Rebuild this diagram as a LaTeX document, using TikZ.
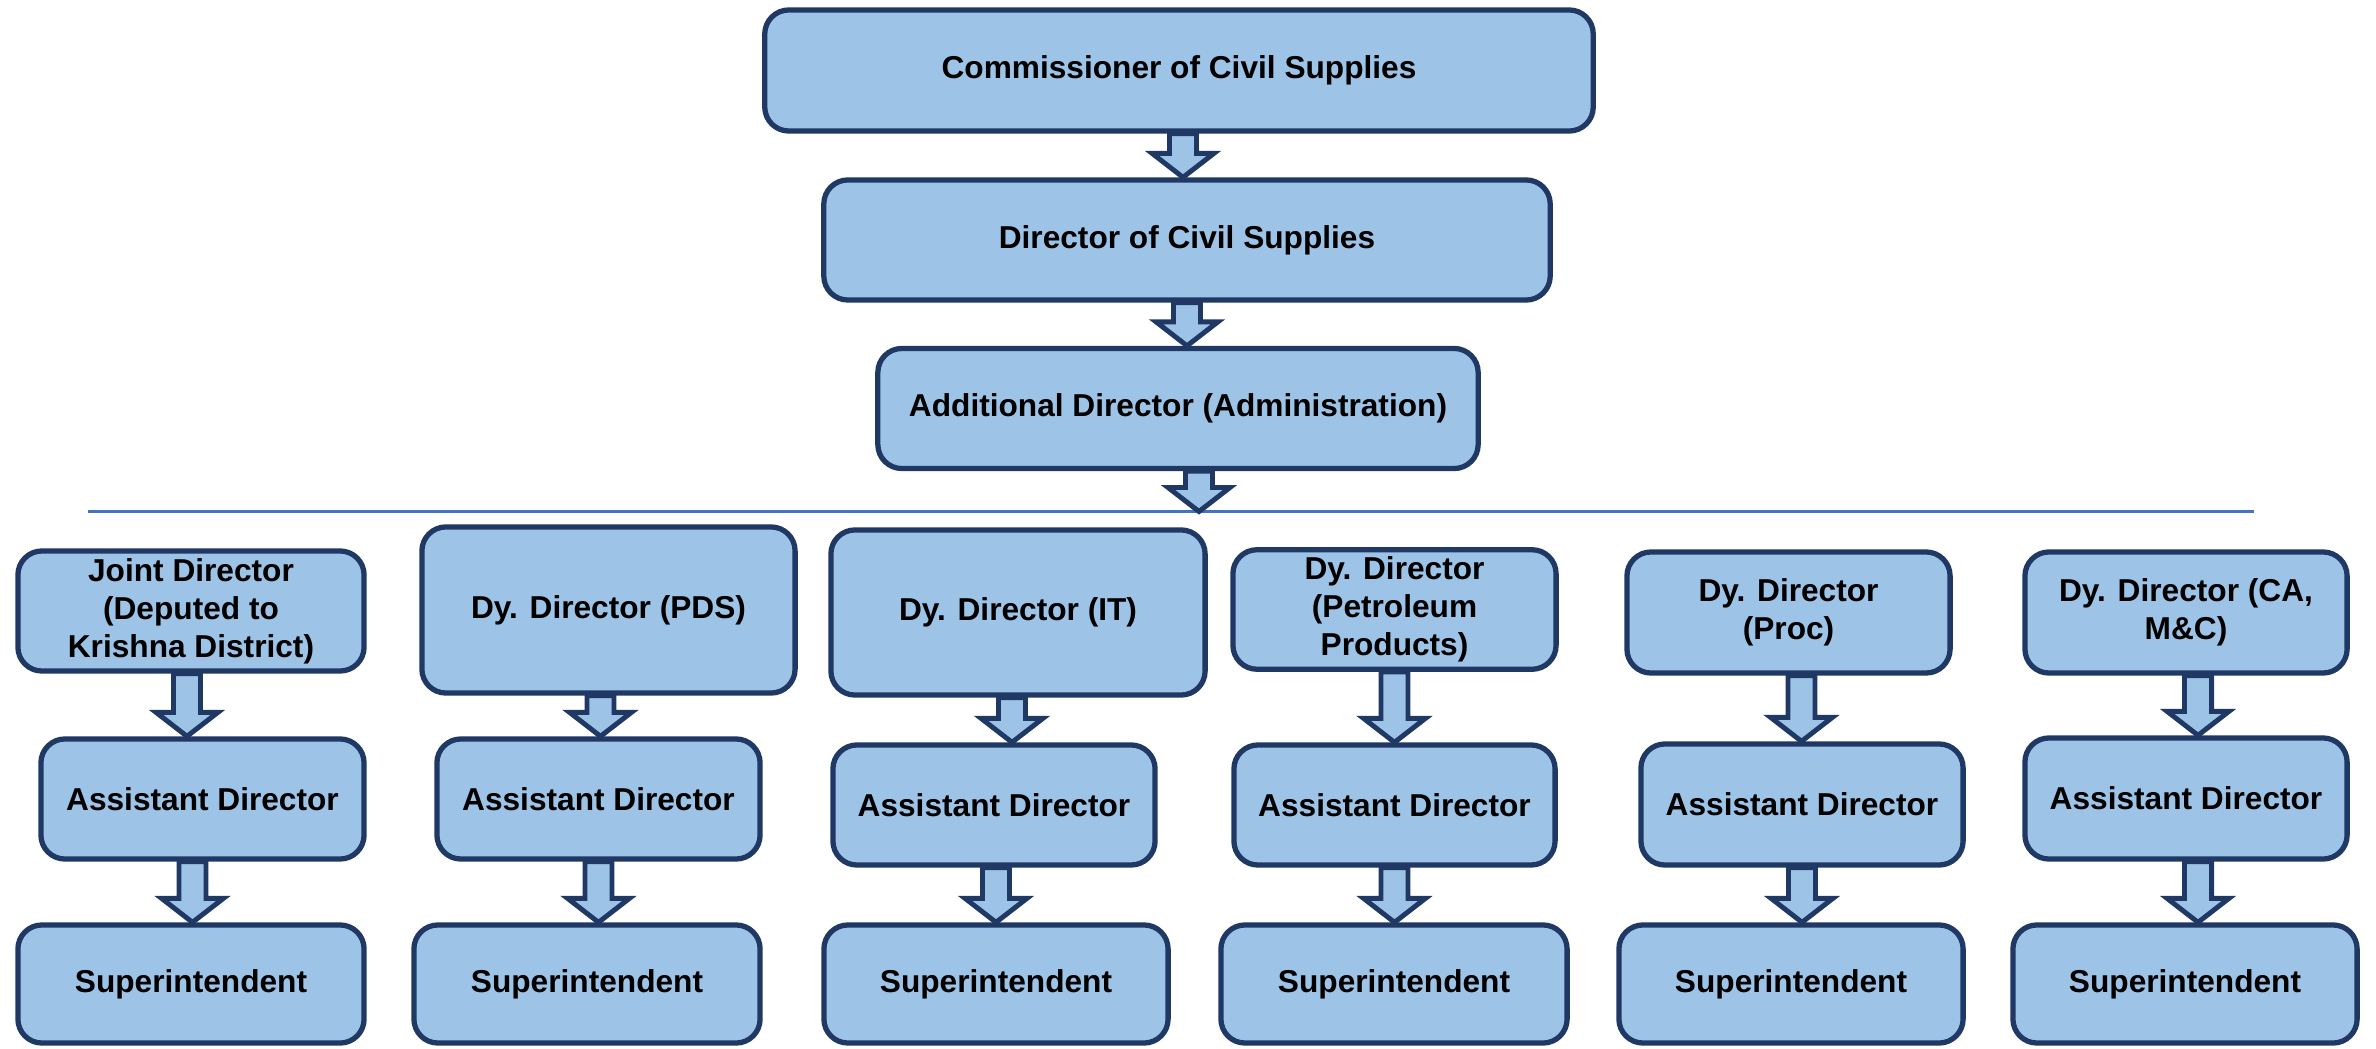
\documentclass[tikz,border=0pt]{standalone}
\usepackage{fontspec}
\setmainfont{Liberation Sans}
\usetikzlibrary{calc,positioning}
\definecolor{boxfill}{HTML}{9DC3E6}
\definecolor{boxline}{HTML}{1F3864}
\definecolor{barline}{HTML}{4472C4}
\tikzset{post/.style={draw=boxline, fill=boxfill, line width=1.5pt, rounded corners=0.24cm, align=center, inner sep=2pt, font=\fontsize{9}{10.8}\selectfont\bfseries}}
\tikzstyle{blk}=[draw=boxline, fill=boxfill, line width=1.4pt, line join=miter]
% block arrow: [x shift] {from} {to}
\newcommand{\flowarrow}[3][0]{%
\path[blk] let \p1=($#2+(#1,0)$), \p2=#3 in
 (\x1-0.135cm,\y1) -- (\x1+0.135cm,\y1) -- (\x1+0.135cm,\y2+0.24cm) -- (\x1+0.31cm,\y2+0.24cm)
 -- (\x1,\y2) -- (\x1-0.31cm,\y2+0.24cm) -- (\x1-0.135cm,\y2+0.24cm) -- cycle;}

\begin{document}
\begin{tikzpicture}[x=0.01cm, y=-0.01cm]
\useasboundingbox (0,0) rectangle (2376,1049);
% top chain
\node[post, minimum width=8.28cm, minimum height=1.21cm] (comm) at (1179,70.5) {Commissioner of Civil Supplies};
\node[post, minimum width=7.26cm, minimum height=1.20cm] (dir) at (1187,240) {Director of Civil Supplies};
\node[post, minimum width=6.00cm, minimum height=1.20cm] (adddir) at (1178,408.5) {Additional Director (Administration)};
\coordinate (barL) at (88,511.5);
\coordinate (barR) at (2254,511.5);
\coordinate (bar) at (1199,511.5);
\draw[barline, line width=0.8pt] (barL) -- (barR);
% heads of wings
\node[post, minimum width=3.46cm, minimum height=1.20cm] (jd) at (191,611) {Joint Director\\(Deputed to\\Krishna District)};
\node[post, minimum width=3.73cm, minimum height=1.66cm] (pds) at (608.5,610) {Dy. Director (PDS)};
\node[post, minimum width=3.74cm, minimum height=1.65cm] (it) at (1018,612.5) {Dy. Director (IT)};
\node[post, minimum width=3.23cm, minimum height=1.19cm] (pet) at (1394.5,609.5) {Dy. Director\\(Petroleum\\Products)};
\node[post, minimum width=3.23cm, minimum height=1.21cm] (proc) at (1788.5,612.5) {Dy. Director\\(Proc)};
\node[post, minimum width=3.22cm, minimum height=1.21cm] (cam) at (2186,612.5) {Dy. Director (CA,\\M\&C)};
% assistant directors
\node[post, minimum width=3.23cm, minimum height=1.20cm] (ad1) at (202.5,799) {Assistant Director};
\node[post, minimum width=3.23cm, minimum height=1.20cm] (ad2) at (598.5,799) {Assistant Director};
\node[post, minimum width=3.22cm, minimum height=1.20cm] (ad3) at (994,805) {Assistant Director};
\node[post, minimum width=3.21cm, minimum height=1.20cm] (ad4) at (1394.5,805) {Assistant Director};
\node[post, minimum width=3.22cm, minimum height=1.21cm] (ad5) at (1802,804.5) {Assistant Director};
\node[post, minimum width=3.22cm, minimum height=1.21cm] (ad6) at (2186,798.5) {Assistant Director};
% superintendents
\node[post, minimum width=3.46cm, minimum height=1.18cm] (sup1) at (191,984) {Superintendent};
\node[post, minimum width=3.46cm, minimum height=1.18cm] (sup2) at (587,984) {Superintendent};
\node[post, minimum width=3.44cm, minimum height=1.18cm] (sup3) at (996,984) {Superintendent};
\node[post, minimum width=3.46cm, minimum height=1.18cm] (sup4) at (1394,984) {Superintendent};
\node[post, minimum width=3.44cm, minimum height=1.18cm] (sup5) at (1791,984) {Superintendent};
\node[post, minimum width=3.44cm, minimum height=1.18cm] (sup6) at (2185,984) {Superintendent};
% arrows
\flowarrow[4]{(comm.south)}{(dir.north)}
\flowarrow{(dir.south)}{(adddir.north)}
\flowarrow[21]{(adddir.south)}{(bar)}
\flowarrow[-4]{(jd.south)}{(ad1.north)}
\flowarrow[-10]{(ad1.south)}{(sup1.north)}
\flowarrow[-8]{(pds.south)}{(ad2.north)}
\flowarrow{(ad2.south)}{(sup2.north)}
\flowarrow[-6]{(it.south)}{(ad3.north)}
\flowarrow[2]{(ad3.south)}{(sup3.north)}
\flowarrow{(pet.south)}{(ad4.north)}
\flowarrow{(ad4.south)}{(sup4.north)}
\flowarrow[13]{(proc.south)}{(ad5.north)}
\flowarrow{(ad5.south)}{(sup5.north)}
\flowarrow[12]{(cam.south)}{(ad6.north)}
\flowarrow[12]{(ad6.south)}{(sup6.north)}
\end{tikzpicture}
\end{document}
